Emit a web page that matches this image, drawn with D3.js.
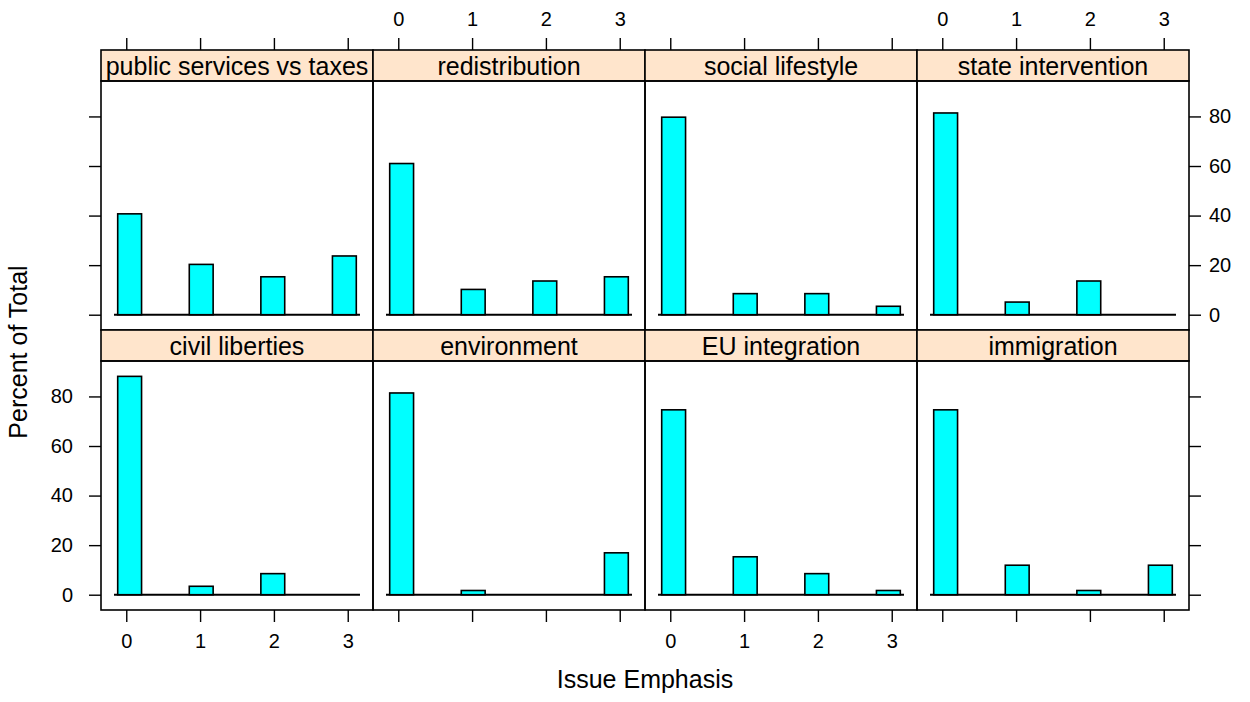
<!DOCTYPE html>
<html>
<head>
<meta charset="utf-8">
<script src="https://cdn.jsdelivr.net/npm/d3@7"></script>
<style>
  body { margin: 0; background: #fff; }
  text { font-family: "Liberation Sans", Arial, sans-serif; fill: #000; }
</style>
</head>
<body>
<div id="chart"></div>
<script>
// panel titles, top row first then bottom row (lattice fills bottom-up)
var topPanels = ["public services vs taxes", "redistribution", "social lifestyle", "state intervention"]
var bottomPanels = ["civil liberties", "environment", "EU integration", "immigration"]
var emphasis = [0, 1, 2, 3]
var yTicks = [0, 20, 40, 60, 80]

// percent of total for emphasis 0..3
var publicServices = [40.7, 20.3, 15.3, 23.7]
var redistribution = [61.0, 10.2, 13.6, 15.3]
var socialLifestyle = [79.7, 8.5, 8.5, 3.4]
var stateIntervention = [81.4, 5.1, 13.6, 0]
var civilLiberties = [88.1, 3.4, 8.5, 0]
var environment = [81.4, 1.7, 0, 16.9]
var euIntegration = [74.6, 15.3, 8.5, 1.7]
var immigration = [74.6, 11.9, 1.7, 11.9]

var panelValues = {
    "public services vs taxes": publicServices,
    "redistribution": redistribution,
    "social lifestyle": socialLifestyle,
    "state intervention": stateIntervention,
    "civil liberties": civilLiberties,
    "environment": environment,
    "EU integration": euIntegration,
    "immigration": immigration
}

var W = 1250, H = 702
var left = 101, right = 1189, rowTop0 = 50
var stripH = 31, panelH = 249
var colW = (right - left) / 4
var nint = 10, lo = -0.116, hi = 3.116
var binW = (hi - lo) / nint
var tick = 12

var svg = d3.select("#chart").append("svg")
            .attr("width", W)
            .attr("height", H)

function rowTop(r) { return rowTop0 + r * (stripH + panelH) }

var y = [0, 1].map(function(r) {
    return d3.scaleLinear().domain([-6.17, 94.3])
             .range([rowTop(r) + stripH + panelH, rowTop(r) + stripH])
})
var x = [0, 1, 2, 3].map(function(c) {
    var pad = (hi - lo) * 0.07
    return d3.scaleLinear().domain([lo - pad, hi + pad])
             .range([left + c * colW, left + (c + 1) * colW])
})

function binOf(v) { return Math.round((v - lo) / binW - 0.5) }

function drawPanel(name, r, c) {
    var xs = x[c], ys = y[r]
    var g = svg.append("g")
    var vals = panelValues[name]

    // baseline (zero-height bins)
    g.append("line")
     .attr("x1", xs(lo - 0.05)).attr("x2", xs(hi + 0.05))
     .attr("y1", ys(0)).attr("y2", ys(0))
     .attr("stroke", "#000").attr("stroke-width", 2)

    g.selectAll("rect.bar")
     .data(emphasis.filter(function(d, i) { return vals[i] > 0 }))
     .join("rect")
     .attr("class", "bar")
     .attr("x", function(d) { return xs(lo + binOf(d) * binW) })
     .attr("width", function(d) { return xs(lo + (binOf(d) + 1) * binW) - xs(lo + binOf(d) * binW) })
     .attr("y", function(d) { return ys(vals[d]) })
     .attr("height", function(d) { return ys(0) - ys(vals[d]) })
     .attr("fill", "#00FFFF")
     .attr("stroke", "#000")
     .attr("stroke-width", 1.6)

    // strip
    var sx = left + c * colW, sy = rowTop(r)
    g.append("rect")
     .attr("x", sx).attr("y", sy).attr("width", colW).attr("height", stripH)
     .attr("fill", "#FFE5CC").attr("stroke", "#000").attr("stroke-width", 1.6)
    g.append("text")
     .attr("x", sx + colW / 2).attr("y", sy + 25)
     .attr("text-anchor", "middle").attr("font-size", 25)
     .text(name)

    // panel border
    g.append("rect")
     .attr("x", sx).attr("y", sy + stripH).attr("width", colW).attr("height", panelH)
     .attr("fill", "none").attr("stroke", "#000").attr("stroke-width", 1.6)
}

topPanels.forEach(function(n, c) { drawPanel(n, 0, c) })
bottomPanels.forEach(function(n, c) { drawPanel(n, 1, c) })

function styleAxis(sel) {
    sel.select(".domain").remove()
    sel.selectAll(".tick line").attr("stroke", "#000").attr("stroke-width", 1.4)
    sel.selectAll(".tick text").attr("font-size", 20).attr("fill", "#000")
       .attr("font-family", "Liberation Sans, Arial, sans-serif")
}

// x axes: top labels on columns 2 and 4, bottom labels on columns 1 and 3
;[0, 1, 2, 3].forEach(function(c) {
    var topAx = d3.axisTop(x[c]).tickValues(emphasis).tickSize(tick).tickPadding(12)
                  .tickFormat(c % 2 === 1 ? d3.format("d") : function() { return "" })
    svg.append("g").attr("transform", "translate(0," + rowTop0 + ")").call(topAx).call(styleAxis)

    var botAx = d3.axisBottom(x[c]).tickValues(emphasis).tickSize(tick).tickPadding(12)
                  .tickFormat(c % 2 === 0 ? d3.format("d") : function() { return "" })
    svg.append("g").attr("transform", "translate(0," + (rowTop(1) + stripH + panelH) + ")").call(botAx).call(styleAxis)
})

// y axes: left labels on bottom row, right labels on top row
;[0, 1].forEach(function(r) {
    var leftAx = d3.axisLeft(y[r]).tickValues(yTicks).tickSize(tick).tickPadding(16)
                   .tickFormat(r === 1 ? d3.format("d") : function() { return "" })
    svg.append("g").attr("transform", "translate(" + left + ",0)").call(leftAx).call(styleAxis)

    var rightAx = d3.axisRight(y[r]).tickValues(yTicks).tickSize(tick).tickPadding(8)
                    .tickFormat(r === 0 ? d3.format("d") : function() { return "" })
    svg.append("g").attr("transform", "translate(" + right + ",0)").call(rightAx).call(styleAxis)
})

svg.append("text")
   .attr("x", (left + right) / 2).attr("y", 688)
   .attr("text-anchor", "middle").attr("font-size", 25)
   .text("Issue Emphasis")

svg.append("text")
   .attr("transform", "translate(27," + 352 + ") rotate(-90)")
   .attr("text-anchor", "middle").attr("font-size", 25)
   .text("Percent of Total")
</script>
</body>
</html>
